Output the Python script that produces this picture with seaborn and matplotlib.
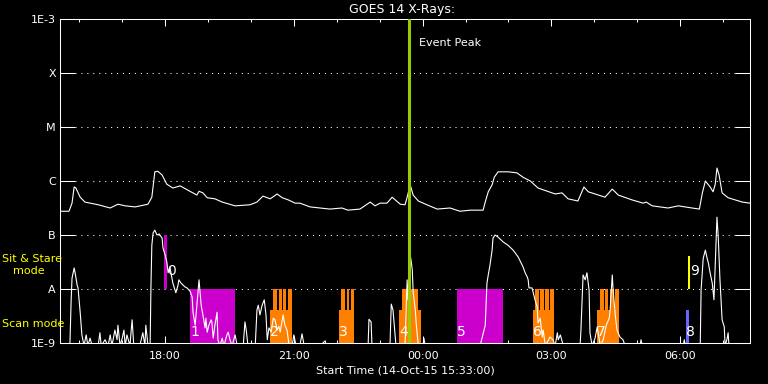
import numpy as np
import pandas as pd
import matplotlib
matplotlib.use('Agg')
import matplotlib.pyplot as plt
import seaborn as sns
from matplotlib.ticker import NullLocator

# time in hours of 14-Oct (values > 24 are on 15-Oct), flux as log10(W/m^2)
long_hour = [15.57, 15.76, 15.83, 15.88, 15.92, 16.02, 16.13, 16.44, 16.72, 16.90,
             17.07, 17.30, 17.60, 17.69, 17.76, 17.83, 17.93, 18.04, 18.18, 18.35,
             18.53, 18.74, 18.79, 18.88, 18.98, 19.16, 19.33, 19.63, 19.98, 20.14,
             20.28, 20.45, 20.61, 20.73, 20.87, 21.03, 21.14, 21.38, 21.84, 22.12,
             22.26, 22.54, 22.78, 22.89, 23.01, 23.17, 23.29, 23.48, 23.59, 23.64,
             23.71, 23.78, 23.90, 24.10, 24.34, 24.64, 24.87, 25.11, 25.41, 25.46,
             25.53, 25.62, 25.67, 25.76, 26.00, 26.20, 26.34, 26.51, 26.69, 27.09,
             27.25, 27.39, 27.62, 27.76, 27.86, 28.02, 28.25, 28.42, 28.56, 28.88,
             29.14, 29.21, 29.35, 29.72, 29.96, 30.28, 30.45, 30.52, 30.59, 30.70,
             30.77, 30.82, 30.86, 30.91, 30.98, 31.12, 31.45, 31.63]
long_logflux = [-6.56, -6.56, -6.41, -6.11, -6.13, -6.30, -6.39, -6.44, -6.50, -6.43,
                -6.46, -6.48, -6.43, -6.30, -5.83, -5.82, -5.89, -6.06, -6.13, -6.09,
                -6.17, -6.26, -6.19, -6.22, -6.31, -6.33, -6.39, -6.46, -6.44, -6.39,
                -6.28, -6.33, -6.24, -6.31, -6.35, -6.41, -6.41, -6.48, -6.52, -6.50,
                -6.54, -6.52, -6.39, -6.46, -6.41, -6.41, -6.30, -6.43, -6.44, -6.30,
                -6.07, -6.26, -6.37, -6.44, -6.52, -6.50, -6.56, -6.54, -6.54, -6.39,
                -6.20, -6.07, -5.93, -5.83, -5.83, -5.85, -5.93, -6.00, -6.13, -6.24,
                -6.22, -6.33, -6.37, -6.11, -6.20, -6.24, -6.30, -6.15, -6.26, -6.35,
                -6.41, -6.39, -6.46, -6.50, -6.46, -6.50, -6.52, -6.22, -6.00, -6.11,
                -6.20, -6.06, -5.76, -5.89, -6.22, -6.31, -6.39, -6.41]

short_hour = [15.57, 15.78, 15.81, 15.83, 15.88, 15.90, 15.95, 15.97, 16.02, 16.06,
              16.11, 16.16, 16.20, 16.25, 16.30, 16.44, 16.48, 16.51, 16.60, 16.67,
              16.72, 16.76, 16.83, 16.88, 16.90, 16.95, 17.00, 17.04, 17.07, 17.11,
              17.18, 17.23, 17.27, 17.41, 17.48, 17.53, 17.55, 17.60, 17.65, 17.67,
              17.69, 17.72, 17.76, 17.81, 17.86, 17.93, 17.95, 18.00, 18.04, 18.07,
              18.11, 18.16, 18.18, 18.25, 18.30, 18.32, 18.37, 18.42, 18.46, 18.51,
              18.58, 18.63, 18.65, 18.70, 18.72, 18.77, 18.79, 18.81, 18.84, 18.88,
              18.93, 18.95, 18.98, 19.02, 19.07, 19.09, 19.12, 19.16, 19.21, 19.23,
              19.28, 19.33, 19.37, 19.44, 19.47, 19.51, 19.56, 19.63, 19.68, 19.82,
              19.86, 19.89, 19.93, 20.10, 20.14, 20.17, 20.21, 20.26, 20.31, 20.35,
              20.38, 20.42, 20.47, 20.52, 20.56, 20.61, 20.65, 20.68, 20.75, 20.79,
              20.84, 20.89, 20.96, 21.00, 21.05, 21.14, 21.19, 21.24, 21.61, 21.73,
              21.75, 22.73, 22.75, 22.80, 22.82, 23.24, 23.27, 23.31, 23.34, 23.38,
              23.59, 23.64, 23.66, 23.71, 23.73, 23.76, 23.78, 23.83, 23.85, 23.90,
              24.01, 24.03, 24.06, 25.34, 25.46, 25.50, 25.53, 25.57, 25.62, 25.64,
              25.69, 25.76, 25.88, 25.99, 26.11, 26.23, 26.34, 26.39, 26.44, 26.46,
              26.48, 26.55, 26.62, 26.67, 26.69, 26.74, 26.79, 26.81, 26.86, 26.97,
              27.04, 27.09, 27.14, 27.16, 27.21, 27.28, 27.67, 27.69, 27.74, 27.79,
              27.83, 27.88, 27.90, 27.95, 28.02, 28.07, 28.14, 28.21, 28.28, 28.35,
              28.37, 28.42, 28.44, 28.49, 28.53, 28.60, 28.67, 28.72, 29.07, 29.09,
              29.12, 30.07, 30.10, 30.12, 30.47, 30.49, 30.54, 30.59, 30.63, 30.66,
              30.70, 30.75, 30.79, 30.84, 30.86, 30.89, 30.93, 30.98, 31.03, 31.05,
              31.10, 31.12, 31.14, 31.19]
short_logflux = [-9.05, -9.05, -8.20, -7.80, -7.61, -7.69, -7.93, -7.98, -8.43, -8.85,
                 -9.05, -8.85, -9.05, -8.91, -9.05, -9.05, -8.81, -9.05, -8.94, -9.05,
                 -8.85, -9.05, -8.76, -8.94, -8.67, -9.05, -8.91, -8.76, -9.05, -8.85,
                 -9.05, -8.57, -9.05, -9.05, -8.81, -9.05, -8.67, -9.05, -9.05, -7.93,
                 -7.19, -6.96, -6.91, -7.00, -6.98, -7.06, -7.24, -7.37, -7.50, -7.70,
                 -7.59, -7.80, -7.89, -8.07, -7.93, -7.83, -7.89, -7.93, -7.96, -7.98,
                 -8.04, -8.15, -8.43, -8.67, -8.48, -8.02, -7.83, -8.02, -8.30, -8.48,
                 -8.72, -8.54, -8.80, -8.67, -8.57, -8.61, -8.91, -8.67, -8.43, -8.94,
                 -9.05, -8.91, -9.05, -8.85, -8.80, -8.94, -9.05, -8.85, -9.05, -9.05,
                 -8.61, -8.76, -9.05, -9.05, -8.39, -8.30, -8.48, -8.30, -8.20, -8.48,
                 -8.94, -8.72, -8.80, -8.54, -8.57, -8.76, -8.69, -8.80, -8.48, -8.67,
                 -8.76, -9.05, -9.05, -8.85, -9.05, -9.05, -8.83, -9.05, -9.05, -8.96,
                 -9.05, -9.05, -8.56, -8.61, -9.05, -9.05, -8.28, -8.39, -8.67, -9.05,
                 -9.05, -7.83, -8.20, -7.37, -7.46, -7.65, -8.06, -8.39, -8.63, -9.05,
                 -9.05, -8.91, -9.05, -9.05, -8.67, -7.89, -7.74, -7.56, -7.28, -7.06,
                 -7.00, -7.04, -7.13, -7.19, -7.28, -7.41, -7.59, -7.70, -7.78, -7.83,
                 -7.98, -7.98, -8.20, -8.33, -8.63, -8.54, -8.89, -8.76, -9.05, -8.89,
                 -8.94, -9.05, -8.81, -8.94, -8.85, -9.05, -9.05, -8.76, -7.74, -7.83,
                 -7.70, -8.02, -8.81, -9.05, -8.91, -8.70, -9.05, -8.94, -8.67, -8.54,
                 -8.39, -7.74, -8.02, -8.48, -8.76, -8.89, -8.94, -9.05, -9.05, -8.94,
                 -9.05, -9.05, -8.94, -9.05, -9.05, -8.02, -7.43, -7.28, -7.43, -7.52,
                 -7.70, -7.89, -8.20, -7.09, -6.67, -7.04, -7.83, -8.57, -8.70, -9.05,
                 -8.91, -8.81, -9.05, -9.05]

# observing events
event_label = ['0', '1', '2', '3', '4', '5', '6', '7', '8', '9']
event_mode = ['stare', 'scan', 'scan', 'scan', 'scan', 'scan', 'scan', 'scan', 'scan', 'stare']
event_start = [17.97, 18.58, 20.45, 22.05, 23.45, 24.80, 26.58, 28.06, 30.14, 30.19]
event_end = [18.04, 19.63, 20.96, 22.41, 23.96, 25.88, 27.07, 28.58, 30.21, 30.24]
event_low = [-8.0, -9.0, -9.0, -9.0, -9.0, -9.0, -9.0, -9.0, -9.0, -8.0]
event_high = [-7.0, -8.0, -8.39, -8.39, -8.39, -8.0, -8.39, -8.39, -8.39, -7.39]
event_color = ['#cc00cc', '#cc00cc', '#ff8000', '#ff8000', '#ff8000',
               '#cc00cc', '#ff8000', '#ff8000', '#6666ff', '#ffff00']

# individual rasters inside the orange scan events
raster_start = [20.51, 20.66, 20.75, 20.86, 22.10, 22.23, 22.33, 23.53, 23.70,
                26.62, 26.74, 26.86, 26.97, 28.14, 28.25, 28.37, 28.49]
raster_end = [20.60, 20.72, 20.81, 20.95, 22.19, 22.29, 22.41, 23.66, 23.89,
              26.72, 26.83, 26.95, 27.07, 28.22, 28.31, 28.45, 28.58]

peak_hour = 23.685

level_values = [1e-9, 1e-8, 1e-7, 1e-6, 1e-5, 1e-4, 1e-3]
level_names = ['1E-9', 'A', 'B', 'C', 'M', 'X', '1E-3']
tick_hours = [18, 21, 24, 27, 30]
tick_names = ['18:00', '21:00', '00:00', '03:00', '06:00']

sns.set_theme(style='ticks', rc={
    'figure.facecolor': 'black', 'axes.facecolor': 'black',
    'axes.edgecolor': 'white', 'axes.labelcolor': 'white',
    'text.color': 'white', 'xtick.color': 'white', 'ytick.color': 'white',
    'axes.linewidth': 0.75})
plt.rcParams['font.family'] = ['DejaVu Sans']

fig = plt.figure(figsize=(7.68, 3.84), dpi=100)
ax = fig.add_axes([60/768, 41/384, 690/768, 324/384])
ax.set_yscale('log')

# event boxes
for lab, mode, s, e, lo, hi, c in zip(event_label, event_mode, event_start, event_end,
                                      event_low, event_high, event_color):
    ax.bar(s, 10**hi - 10**lo, bottom=10**lo, width=e - s, align='edge',
           color=c, lw=0, zorder=2)
    if mode == 'stare':
        ax.text(e, 10**-7.67, lab, ha='left', va='center', fontsize=10, zorder=6)
    else:
        ax.text(s, 10**-8.80, lab, ha='left', va='center', fontsize=10, zorder=6)

rs = np.array(raster_start)
ax.bar(rs, 1e-8 - 1e-9, bottom=1e-9, width=np.array(raster_end) - rs, align='edge',
       color='#ff8000', lw=0, zorder=2)

# dotted class levels
for lv in level_values[1:-1]:
    ax.axhline(lv, xmin=15/690, xmax=676/690, color='white', lw=0.75,
               ls=(0, (1, 4.7)), zorder=1)

long_df = pd.DataFrame({'hour': long_hour, 'flux': 10.0 ** np.array(long_logflux)})
short_df = pd.DataFrame({'hour': short_hour, 'flux': 10.0 ** np.array(short_logflux)})
sns.lineplot(data=long_df, x='hour', y='flux', color='white', lw=0.8,
             estimator=None, ax=ax, zorder=4)
sns.lineplot(data=short_df, x='hour', y='flux', color='white', lw=0.8,
             estimator=None, ax=ax, zorder=4)

ax.axvline(peak_hour, color='#99cc00', lw=2.2, zorder=5)
ax.annotate('Event Peak', xy=(peak_hour, 1e-3), xytext=(10, -23.5),
            textcoords='offset pixels', ha='left', va='center', fontsize=8)

ax.set_xlim(15.55, 31.63)
ax.set_ylim(1e-9, 1e-3)
ax.set_yticks(level_values)
ax.set_yticklabels(level_names)
ax.yaxis.set_minor_locator(NullLocator())
ax.set_xticks(tick_hours)
ax.set_xticklabels(tick_names)
ax.set_xticks(range(16, 32), minor=True)
ax.tick_params(axis='y', which='major', direction='in', length=10.8, width=0.75,
               left=True, right=True, labelsize=8, pad=3)
ax.tick_params(axis='x', which='major', direction='in', length=5, width=0.75,
               top=True, bottom=True, labelsize=8, pad=6)
ax.tick_params(axis='x', which='minor', direction='in', length=2.5, width=0.75,
               top=True, bottom=True)
ax.set_xlabel('Start Time (14-Oct-15 15:33:00)', fontsize=8, labelpad=3)
ax.set_ylabel('')
for sp in ax.spines.values():
    sp.set_visible(True)
    sp.set_color('white')

fig.text(402/768, 1 - 9/384, 'GOES 14 X-Rays:', ha='center', va='center', fontsize=9)
fig.text(2/768, 1 - 259/384, 'Sit & Stare', color='yellow', ha='left', va='center', fontsize=8)
fig.text(13/768, 1 - 271.5/384, 'mode', color='yellow', ha='left', va='center', fontsize=8)
fig.text(2/768, 1 - 324/384, 'Scan mode', color='yellow', ha='left', va='center', fontsize=8)

fig.savefig('out.png', dpi=100, facecolor='black')
